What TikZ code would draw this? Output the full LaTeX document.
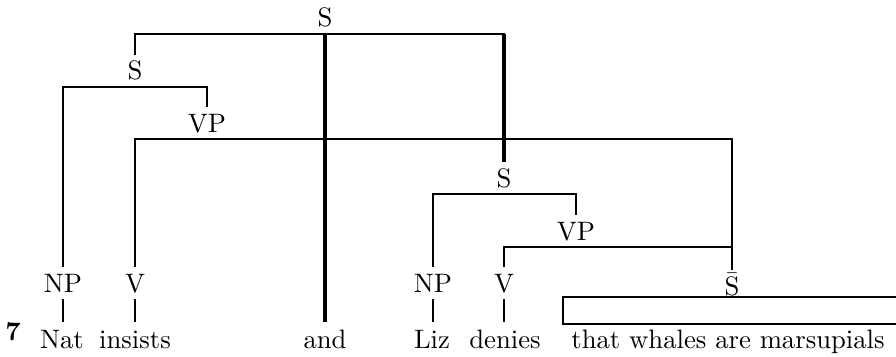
\documentclass[tikz,border=0pt]{standalone}
\begin{document}
\begin{tikzpicture}[x=0.375pt,y=-0.375pt,
  lbl/.style={inner xsep=0pt,inner ysep=2.5pt,text height=6.83pt,text depth=0pt,anchor=base},
  word/.style={inner xsep=0pt,inner ysep=2.5pt,text height=6.94pt,text depth=1.94pt,anchor=base},
  edge/.style={line width=0.72pt},
  heavy/.style={line width=1.2pt}]
\useasboundingbox (0,0) rectangle (896,356);

% category labels
\node[lbl] (s0)   at (325,27)  {S};
\node[lbl] (s1)   at (135,80)  {S};
\node[lbl] (vp1)  at (207,132) {VP};
\node[lbl] (s2)   at (504,187) {S};
\node[lbl] (vp2)  at (576,240) {VP};
\node[lbl] (np1)  at (63,292)  {NP};
\node[lbl] (v1)   at (135,292) {V};
\node[lbl] (np2)  at (433,292) {NP};
\node[lbl] (v2)   at (504,292) {V};
\node[lbl] (sbar) at (732,295) {$\bar{\mathrm{S}}$};

% terminal string
\node[font=\bfseries,anchor=base,inner sep=0pt] (num) at (13,340) {7};
\node[word] (w1)  at (62,348)  {Nat};
\node[word] (w2)  at (135,348) {insists};
\node[word] (and) at (325,348) {and};
\node[word] (w3)  at (432,348) {Liz};
\node[word] (w4)  at (505,348) {denies};
\node[word] (w5)  at (728,348) {that whales are marsupials};

% box over the unanalysed clause
\coordinate (btl) at (563,297);
\coordinate (bbl) at (563,324);
\coordinate (btr) at (896,297);
\coordinate (bbr) at (896,324);

% branches
\draw[edge] (s1.north) |- (s0.south) -| (s2.north);
\draw[heavy] (s2.north) -- (s2.north |- s0.south);
\draw[heavy] (and.north) -- (and.north |- s0.south);
\draw[edge] (np1.north) |- (s1.south) -| (vp1.north);
\draw[edge] (v1.north) |- (vp1.south) -| (sbar.north);
\draw[edge] (np2.north) |- (s2.south) -| (vp2.north);
\draw[edge] (v2.north) |- (vp2.south) -| (sbar.north);

% lexical links
\draw[edge] (np1.south) -- (np1.south |- w1.north);
\draw[edge] (v1.south) -- (v1.south |- w2.north);
\draw[edge] (np2.south) -- (np2.south |- w3.north);
\draw[edge] (v2.south) -- (v2.south |- w4.north);
\draw[edge] (btr) -- (btl) -- (bbl) -- (bbr);
\end{tikzpicture}
\end{document}
